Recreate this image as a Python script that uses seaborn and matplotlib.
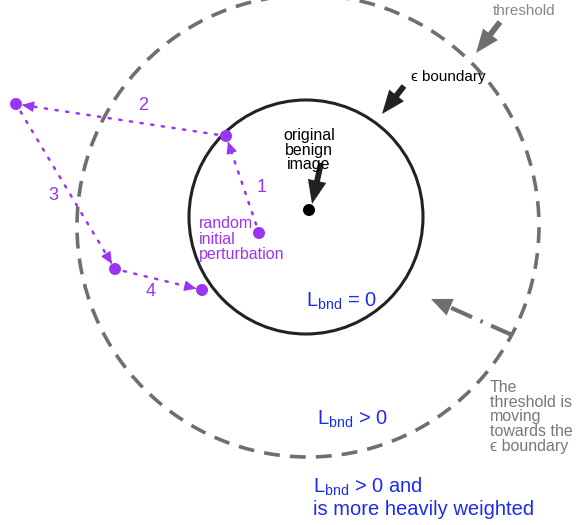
import numpy as np
import pandas as pd
import seaborn as sns
import matplotlib.pyplot as plt
from matplotlib.patches import Circle, FancyArrowPatch

# diagram data (pixel space, y grows downward)
path_x = [259, 226, 16, 115, 202]
path_y = [233, 136, 104, 269, 290]
step_labels = ['1', '2', '3', '4']
step_label_x = [262, 143, 53, 151]
step_label_y = [188, 106, 195, 291]

image_x = [309]
image_y = [210]

eps_center = (306, 217)
eps_radius = 117
thr_center = (308, 226)
thr_radius = 231

PURPLE = '#9b35f6'
BLUE = '#1c2bf2'
GRAY = '#6f6f6f'
DARK = '#222222'

sns.set_theme(style='white')
plt.rcParams['font.family'] = ['Liberation Sans', 'DejaVu Sans']
plt.rcParams['mathtext.fontset'] = 'custom'
plt.rcParams['mathtext.rm'] = 'Liberation Sans'
plt.rcParams['mathtext.it'] = 'Liberation Sans'

fig = plt.figure(figsize=(5.8, 5.25), dpi=100)
ax = fig.add_axes([0, 0, 1, 1])
ax.set_xlim(0, 580)
ax.set_ylim(525, 0)
ax.axis('off')

# circles
ax.add_patch(Circle(thr_center, thr_radius, fill=False, ec=GRAY, lw=2.6,
                    linestyle=(0, (4.4, 2.8))))
ax.add_patch(Circle(eps_center, eps_radius, fill=False, ec=DARK, lw=2.2))

# dotted path with small heads
for i in range(len(path_x) - 1):
    p0 = np.array([path_x[i], path_y[i]], float)
    p1 = np.array([path_x[i + 1], path_y[i + 1]], float)
    d = (p1 - p0) / np.linalg.norm(p1 - p0)
    a = p0 + d * 9
    b = p1 - d * 9
    ax.plot([a[0], b[0]], [a[1], b[1]], color=PURPLE, lw=1.8,
            linestyle=(0, (0.9, 3.4)), dash_capstyle='round')
    tip = p1 - d * 6
    ax.add_patch(FancyArrowPatch(tip - d * 1.5, tip, mutation_scale=10,
                                 arrowstyle='-|>,head_length=0.7,head_width=0.32',
                                 color=PURPLE, lw=1.0, shrinkA=0, shrinkB=0))

pts = pd.DataFrame({'x': path_x, 'y': path_y})
sns.scatterplot(data=pts, x='x', y='y', color=PURPLE, s=75, edgecolor='none', ax=ax)
sns.scatterplot(x=image_x, y=image_y, color='black', s=75, edgecolor='none', ax=ax)

for lab, lx, ly in zip(step_labels, step_label_x, step_label_y):
    ax.text(lx, ly, lab, color=PURPLE, fontsize=13, ha='center', va='center')

ax.text(199, 239, 'random\ninitial\nperturbation', color=PURPLE, fontsize=11.5,
        ha='left', va='center', linespacing=1.0)
ax.text(309, 150, 'original\nbenign\nimage', color='black', fontsize=11.5,
        ha='center', va='center', linespacing=0.95)

# big arrows
def big_arrow(start, end, color):
    ax.add_patch(FancyArrowPatch(start, end, mutation_scale=10, color=color,
                                 arrowstyle='simple,head_width=1.35,head_length=1.7,tail_width=0.42',
                                 shrinkA=0, shrinkB=0, lw=0))

big_arrow((321, 163), (312, 204), DARK)
big_arrow((404, 86), (382, 114), DARK)
big_arrow((500, 22), (476, 53), GRAY)

ax.text(411, 77, 'ϵ boundary', color='black', fontsize=11, ha='left', va='center')
ax.text(493, 11, 'threshold', color='#888888', fontsize=11, ha='left', va='center')

# dash-dot arrow
ax.plot([512, 447], [335, 306], color=GRAY, lw=3, linestyle=(0, (5.5, 2.2, 0.6, 2.2)))
ax.add_patch(FancyArrowPatch((445, 305), (431, 299), mutation_scale=10, color=GRAY,
                             arrowstyle='-|>,head_length=1.5,head_width=0.65',
                             shrinkA=0, shrinkB=0, lw=0))

ax.text(490, 417, 'The\nthreshold is\nmoving\ntowards the\nϵ boundary', color='#777777',
        fontsize=11.5, ha='left', va='center', linespacing=0.96)

ax.text(306, 307, r'$\mathrm{L_{bnd}}$ = 0', color=BLUE, fontsize=14.5,
        ha='left', va='baseline')
ax.text(317, 425, r'$\mathrm{L_{bnd}}$ > 0', color=BLUE, fontsize=14.5,
        ha='left', va='baseline')
ax.text(313, 497, '$\\mathrm{L_{bnd}}$ > 0 and\nis more heavily weighted', color=BLUE,
        fontsize=14.5, ha='left', va='center', linespacing=1.15)

fig.savefig('out.png', dpi=100)
